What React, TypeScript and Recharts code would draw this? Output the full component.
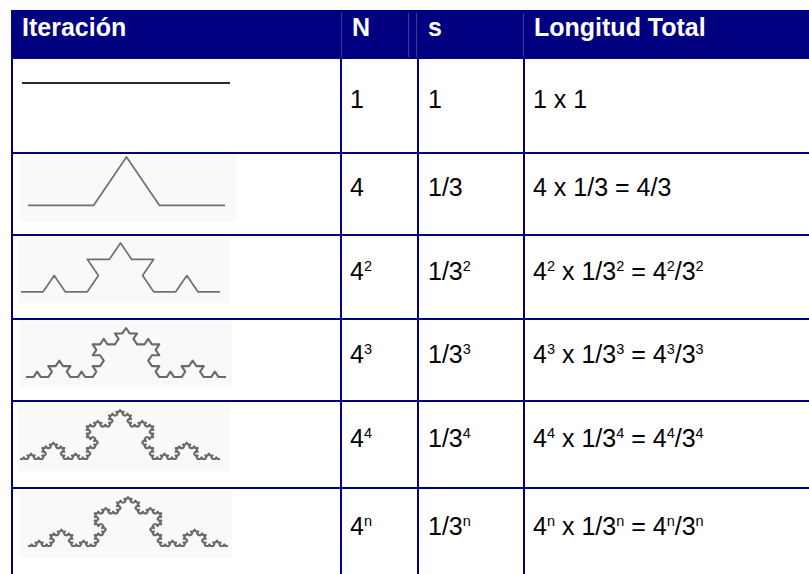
import React from 'react';
import { LineChart, Line, XAxis, YAxis } from 'recharts';

// table content
const HEADERS = ['Iteración', 'N', 's', 'Longitud Total'];
const ITERATION_DEPTHS = [0, 1, 2, 3, 4, 4];
const N_VALUES = ['1', '4', '4^2', '4^3', '4^4', '4^n'];
const S_VALUES = ['1', '1/3', '1/3^2', '1/3^3', '1/3^4', '1/3^n'];
const LENGTH_VALUES = [
  '1 x 1',
  '4 x 1/3 = 4/3',
  '4^2 x 1/3^2 = 4^2/3^2',
  '4^3 x 1/3^3 = 4^3/3^3',
  '4^4 x 1/3^4 = 4^4/3^4',
  '4^n x 1/3^n = 4^n/3^n',
];

// the Koch motif as it appears in row 2 (unit segment)
const KOCH_GENERATOR = [
  { x: 0, y: 0 },
  { x: 1 / 3, y: 0 },
  { x: 1 / 2, y: Math.sqrt(3) / 6 },
  { x: 2 / 3, y: 0 },
  { x: 1, y: 0 },
];

// replace each segment by the motif, depth times
function kochPoints(depth: number) {
  let pts = [KOCH_GENERATOR[0], KOCH_GENERATOR[KOCH_GENERATOR.length - 1]];
  for (let d = 0; d < depth; d++) {
    const next = [pts[0]];
    for (let i = 0; i < pts.length - 1; i++) {
      const a = pts[i];
      const b = pts[i + 1];
      const dx = b.x - a.x;
      const dy = b.y - a.y;
      KOCH_GENERATOR.slice(1).forEach((g) =>
        next.push({ x: a.x + g.x * dx - g.y * dy, y: a.y + g.x * dy + g.y * dx })
      );
    }
    pts = next;
  }
  return pts;
}

const NAVY = '#000080';
const FONT = '"Liberation Sans", Arial, Helvetica, sans-serif';
const PEAK = Math.sqrt(3) / 6;
const SQUASH = 0.85;
const PAD = 3;

// layout (pixels)
const BODY_LINES = [152, 234, 318, 400, 487];
const COL_LINES = [340, 417, 523];
const TEXT_X = [22, 350, 428, 533];
const HEADER_X = [22, 352, 428, 534];
const BASELINES = [108, 196, 280, 363, 447, 535];
const CURVES = [
  { x0: 22, x1: 230, base: 83, color: '#2a2a2a', width: 2 },
  { x0: 28, x1: 225, base: 205, color: '#707070', width: 1.7 },
  { x0: 21, x1: 220, base: 292, color: '#707070', width: 1.7 },
  { x0: 26, x1: 226, base: 377, color: '#6a6a6a', width: 2.1 },
  { x0: 20, x1: 220, base: 459, color: '#6a6a6a', width: 2.1 },
  { x0: 28, x1: 228, base: 546, color: '#6a6a6a', width: 2.1 },
];
const BG_BOXES = [
  null,
  { x: 20, y: 156, w: 216, h: 66 },
  { x: 18, y: 237, w: 212, h: 66 },
  { x: 20, y: 321, w: 212, h: 66 },
  { x: 18, y: 403, w: 212, h: 68 },
  { x: 20, y: 490, w: 212, h: 68 },
];

function Formatted({ text }: { text: string }) {
  const parts = text.split(/\^(\w)/);
  return (
    <>
      {parts.map((p, i) =>
        i % 2 === 1 ? (
          <span key={i} style={{ fontSize: 14.5, position: 'relative', top: -9 }}>
            {p}
          </span>
        ) : (
          <span key={i}>{p}</span>
        )
      )}
    </>
  );
}

function KochCurve({ row }: { row: number }) {
  const c = CURVES[row];
  const len = c.x1 - c.x0;
  const h = PEAK * len * SQUASH;
  const data = kochPoints(ITERATION_DEPTHS[row]);
  return (
    <div style={{ position: 'absolute', left: c.x0 - PAD, top: c.base - h - PAD }}>
      <LineChart
        width={len + 2 * PAD}
        height={h + 2 * PAD}
        data={data}
        margin={{ top: PAD, right: PAD, bottom: PAD, left: PAD }}
      >
        <XAxis type="number" dataKey="x" domain={[0, 1]} hide />
        <YAxis type="number" domain={[0, PEAK]} hide />
        <Line
          type="linear"
          dataKey="y"
          stroke={c.color}
          strokeWidth={c.width}
          strokeLinejoin="round"
          dot={false}
          isAnimationActive={false}
        />
      </LineChart>
    </div>
  );
}

export default function App() {
  const text = (x: number, baseline: number, size: number, content: React.ReactNode, extra = {}) => (
    <div
      style={{
        position: 'absolute',
        left: x,
        top: baseline - 0.8465 * size,
        fontSize: size,
        lineHeight: `${size}px`,
        whiteSpace: 'nowrap',
        ...extra,
      }}
    >
      {content}
    </div>
  );

  return (
    <div
      style={{
        position: 'absolute',
        left: 0,
        top: 0,
        width: 809,
        height: 574,
        overflow: 'hidden',
        background: '#ffffff',
        fontFamily: FONT,
        color: '#000',
      }}
    >
      {/* header band */}
      <div style={{ position: 'absolute', left: 11, top: 10, width: 798, height: 49, background: NAVY }} />
      {[341, 408, 416, 523].map((x) => (
        <div key={x} style={{ position: 'absolute', left: x, top: 13, width: 1, height: 44, background: '#3a3aa0' }} />
      ))}
      {HEADERS.map((h, i) =>
        <React.Fragment key={h}>{text(HEADER_X[i], 36, 25, h, { color: '#fff', fontWeight: 'bold' })}</React.Fragment>
      )}

      {/* image backgrounds */}
      {BG_BOXES.map((b, i) =>
        b ? (
          <div key={i} style={{ position: 'absolute', left: b.x, top: b.y, width: b.w, height: b.h, background: '#f9f9f9' }} />
        ) : null
      )}

      {/* grid */}
      <div style={{ position: 'absolute', left: 11, top: 10, width: 2, height: 564, background: NAVY }} />
      {COL_LINES.map((x) => (
        <div key={x} style={{ position: 'absolute', left: x, top: 59, width: 2, height: 515, background: NAVY }} />
      ))}
      {BODY_LINES.map((y) => (
        <div key={y} style={{ position: 'absolute', left: 11, top: y, width: 798, height: 2, background: NAVY }} />
      ))}

      {/* rows */}
      {ITERATION_DEPTHS.map((_, r) => (
        <React.Fragment key={r}>
          <KochCurve row={r} />
          {text(TEXT_X[1], BASELINES[r], 25, <Formatted text={N_VALUES[r]} />)}
          {text(TEXT_X[2], BASELINES[r], 25, <Formatted text={S_VALUES[r]} />)}
          {text(TEXT_X[3], BASELINES[r], 25, <Formatted text={LENGTH_VALUES[r]} />)}
        </React.Fragment>
      ))}
    </div>
  );
}
